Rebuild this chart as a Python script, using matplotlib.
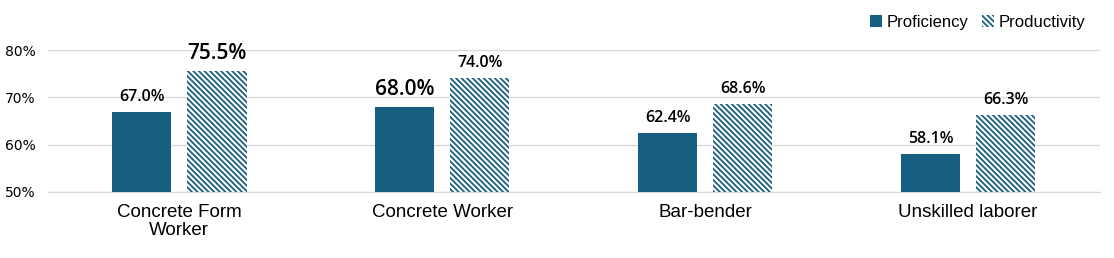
import numpy as np
import matplotlib
matplotlib.use("Agg")
import matplotlib.pyplot as plt
from matplotlib.patches import Patch

categories = ["Concrete Form\nWorker", "Concrete Worker", "Bar-bender", "Unskilled laborer"]
proficiency = [67.0, 68.0, 62.4, 58.1]
productivity = [75.5, 74.0, 68.6, 66.3]
yticks = [50, 60, 70, 80]

BLUE = "#185e80"
HATCH = "\\" * 6

plt.rcParams.update({
    "font.family": ["DejaVu Sans"],
    "hatch.linewidth": 1.3,
})

fig = plt.figure(figsize=(11.14, 2.58), dpi=100)
ax = fig.add_axes([0.043, 0.256, 0.944, 0.550])

x = np.arange(len(categories))
w = 0.225
off = 0.143

ax.bar(x - off, proficiency, w, color=BLUE, zorder=3)
ax.bar(x + off, productivity, w, color="white", edgecolor=BLUE,
       hatch=HATCH, linewidth=0, zorder=3)

# biggest values get the larger label
big_p = int(np.argmax(proficiency))
big_q = int(np.argmax(productivity))
for vals, sgn, big in [(proficiency, -1, big_p), (productivity, 1, big_q)]:
    for i, v in enumerate(vals):
        fs = 15 if i == big else 11.5
        ax.annotate(f"{v:.1f}%", (x[i] + sgn * off, v), xytext=(0, 5),
                    textcoords="offset points", ha="center", va="bottom",
                    fontsize=fs, family=["Open Sans", "DejaVu Sans"],
                    fontweight="semibold", clip_on=False)

ax.set_ylim(50, 80)
ax.set_xlim(-0.5, len(categories) - 0.5)
ax.set_yticks(yticks)
ax.set_yticklabels([f"{t}%" for t in yticks], fontsize=10)
ax.set_xticks(x)
ax.set_xticklabels(categories, fontsize=13.5, linespacing=1.05, family="Liberation Sans")
ax.tick_params(axis="both", length=0)
ax.tick_params(axis="x", pad=9)
ax.tick_params(axis="y", pad=9)
ax.grid(axis="y", color="#d9d9d9", lw=1, zorder=0)
for s in ["top", "right", "left"]:
    ax.spines[s].set_visible(False)
ax.spines["bottom"].set_color("#d9d9d9")

handles = [Patch(facecolor=BLUE, label="Proficiency"),
           Patch(facecolor="white", edgecolor=BLUE, hatch=HATCH, linewidth=0,
                 label="Productivity")]
fig.legend(handles=handles, loc="upper right", bbox_to_anchor=(0.988, 1.0), ncol=2,
           frameon=False, prop={"family": "Liberation Sans", "size": 12},
           handlelength=0.7, handleheight=0.7, handletextpad=0.3, columnspacing=0.8)

fig.savefig("out.png", dpi=100, facecolor="white")
